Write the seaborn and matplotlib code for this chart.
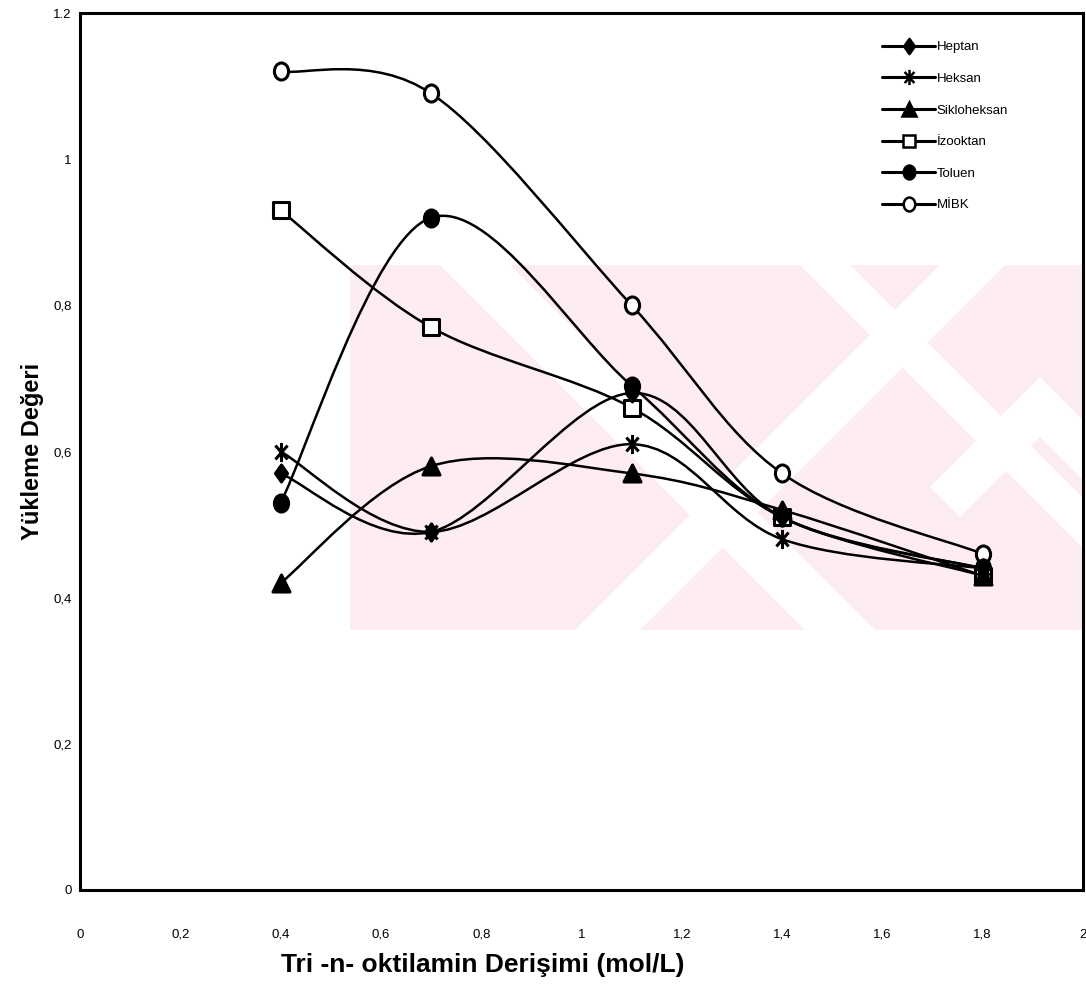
import numpy as np
import pandas as pd
import matplotlib
matplotlib.use("Agg")
import matplotlib.pyplot as plt
import seaborn as sns
from matplotlib.path import Path
from matplotlib.patches import PathPatch, Polygon, Rectangle
from matplotlib.lines import Line2D
from matplotlib.transforms import Affine2D

# veriler
konsantrasyon = [0.4, 0.7, 1.1, 1.4, 1.8]
heptan = [0.57, 0.49, 0.68, 0.51, 0.44]
heksan = [0.60, 0.49, 0.61, 0.48, 0.44]
sikloheksan = [0.42, 0.58, 0.57, 0.52, 0.43]
izooktan = [0.93, 0.77, 0.66, 0.51, 0.43]
toluen = [0.53, 0.92, 0.69, 0.51, 0.44]
mibk = [1.12, 1.09, 0.80, 0.57, 0.46]

seri_adlari = ["Heptan", "Heksan", "Sikloheksan", "İzooktan", "Toluen", "MİBK"]
x_ticks = [0, 0.2, 0.4, 0.6, 0.8, 1.0, 1.2, 1.4, 1.6, 1.8, 2.0]
x_tick_labels = ["0", "0,2", "0,4", "0,6", "0,8", "1", "1,2", "1,4", "1,6", "1,8", "2"]
y_ticks = [0, 0.2, 0.4, 0.6, 0.8, 1.0, 1.2]
y_tick_labels = ["0", "0,2", "0,4", "0,6", "0,8", "1", "1.2"]

sns.set_theme(style="white", rc={"text.color": "black", "axes.labelcolor": "black",
                                 "xtick.color": "black", "ytick.color": "black"})
plt.rcParams["font.family"] = ["Liberation Sans", "DejaVu Sans"]

# isaretler (orijinalde dikey olarak biraz uzamis)
uzat = Affine2D().scale(1.0, 1.2)
asterisk = Path(
    [(0, -1.1), (0, 1.1), (-0.7, -0.8), (0.7, 0.8), (-0.7, 0.8), (0.7, -0.8)],
    [Path.MOVETO, Path.LINETO, Path.MOVETO, Path.LINETO, Path.MOVETO, Path.LINETO],
)
elmas = Path([(0, -1.2), (0.85, 0), (0, 1.2), (-0.85, 0), (0, -1.2)],
             [Path.MOVETO, Path.LINETO, Path.LINETO, Path.LINETO, Path.CLOSEPOLY])
daire = uzat.transform_path(Path.unit_circle())

stiller = {
    "Heptan": dict(marker=elmas, s=150, fc="black", ms=11),
    "Heksan": dict(marker=asterisk, s=190, fc="black", ms=11),
    "Sikloheksan": dict(marker="^", s=150, fc="black", ms=10),
    "İzooktan": dict(marker="s", s=130, fc="white", ms=9),
    "Toluen": dict(marker=daire, s=150, fc="black", ms=10),
    "MİBK": dict(marker=daire, s=150, fc="white", ms=10),
}

df = pd.DataFrame({
    "x": konsantrasyon * 6,
    "y": heptan + heksan + sikloheksan + izooktan + toluen + mibk,
    "cozucu": np.repeat(seri_adlari, len(konsantrasyon)),
})

fig = plt.figure(figsize=(10.86, 9.86), dpi=100)
ax = fig.add_axes([80 / 1086, 1 - 890 / 986, 1003 / 1086, 877 / 986])


def px(x, y):
    # resim pikselinden eksen oranina
    return ((x - 80) / 1003, (890 - y) / 877)


# arka plandaki soluk filigran
alan = Rectangle(px(350, 630), 733 / 1003, 365 / 877, transform=ax.transAxes,
                 facecolor="#fdecf0", edgecolor="none", zorder=0)
ax.add_patch(alan)
bantlar = [
    [(440, 265), (510, 265), (875, 630), (805, 630)],
    [(575, 630), (640, 630), (1005, 265), (940, 265)],
    [(800, 265), (850, 265), (1083, 498), (1083, 548)],
    [(1083, 420), (1083, 480), (1040, 437), (960, 517), (930, 487), (1040, 377)],
]
for b in bantlar:
    p = Polygon([px(*q) for q in b], closed=True, transform=ax.transAxes,
                facecolor="white", edgecolor="none", zorder=0.5)
    p.set_clip_path(alan)
    ax.add_patch(p)


def egri(xs, ys):
    # Excel tarzi yumusatilmis cizgi (Catmull-Rom -> Bezier)
    pts = np.column_stack([xs, ys])
    verts = [pts[0]]
    codes = [Path.MOVETO]
    n = len(pts)
    for i in range(n - 1):
        p0 = pts[max(i - 1, 0)]
        p1 = pts[i]
        p2 = pts[i + 1]
        p3 = pts[min(i + 2, n - 1)]
        verts += [p1 + (p2 - p0) / 6, p2 - (p3 - p1) / 6, p2]
        codes += [Path.CURVE4] * 3
    return Path(verts, codes)


for ad in seri_adlari:
    d = df[df["cozucu"] == ad]
    ax.add_patch(PathPatch(egri(d["x"].values, d["y"].values), fill=False,
                           edgecolor="black", lw=1.8, zorder=2))
for ad in reversed(seri_adlari):
    d = df[df["cozucu"] == ad]
    st = stiller[ad]
    sns.scatterplot(x=d["x"], y=d["y"], marker=st["marker"], s=st["s"],
                    facecolor=st["fc"], edgecolor="black", linewidth=2.2,
                    ax=ax, zorder=3, legend=False)

ax.set_xlim(0, 2)
ax.set_ylim(0, 1.2)
ax.set_xticks(x_ticks)
ax.set_xticklabels(x_tick_labels, fontsize=9.5)
ax.set_yticks(y_ticks)
ax.set_yticklabels(y_tick_labels, fontsize=9.5)
ax.tick_params(axis="x", length=0, pad=28)
ax.tick_params(axis="y", length=0, pad=6)
for s in ax.spines.values():
    s.set_linewidth(2.2)
    s.set_color("black")

ax.set_xlabel("Tri -n- oktilamin Derişimi (mol/L)", fontsize=19, fontweight="bold")
ax.xaxis.set_label_coords(0.402, -0.072)
ax.set_ylabel("Yükleme Değeri", fontsize=17, fontweight="bold")
ax.yaxis.set_label_coords(-0.036, 0.5)

handles = []
for ad in seri_adlari:
    st = stiller[ad]
    handles.append(Line2D([], [], color="black", lw=2.2, marker=st["marker"],
                          markersize=st["ms"], markerfacecolor=st["fc"],
                          markeredgecolor="black", markeredgewidth=1.8))
leg = ax.legend(handles, seri_adlari, loc="upper left", bbox_to_anchor=(0.80, 0.968),
                frameon=False, fontsize=9.5, handlelength=4.0, handletextpad=0.1,
                labelspacing=1.47, borderpad=0, borderaxespad=0)
for t in leg.get_texts():
    t.set_family(["Liberation Sans Narrow", "Liberation Sans", "DejaVu Sans"])
    t.set_color("black")

fig.savefig("out.png", dpi=100)
